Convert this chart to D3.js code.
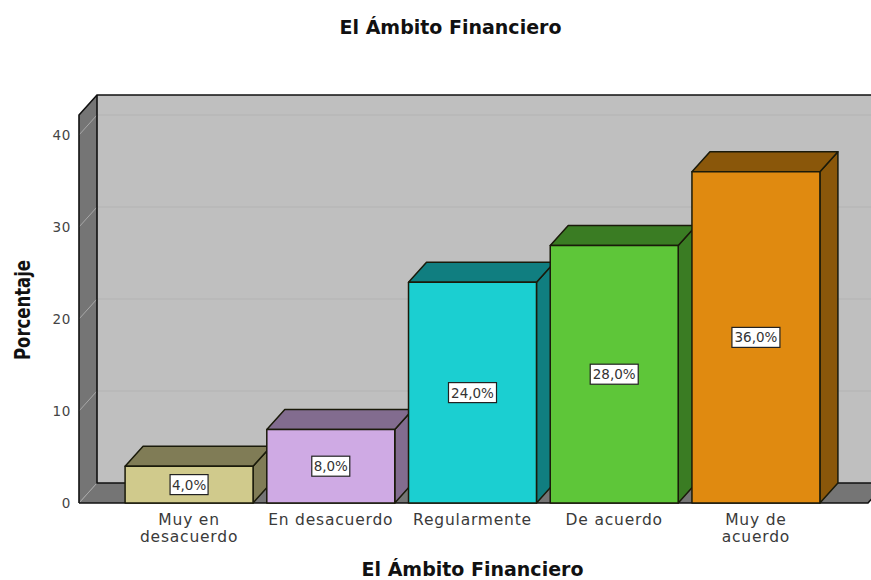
<!DOCTYPE html>
<html><head><meta charset="utf-8">
<script src="https://cdn.jsdelivr.net/npm/d3@7"></script>
<style>html,body{margin:0;padding:0;background:#fff;overflow:hidden}svg{display:block}text{font-family:"DejaVu Sans",sans-serif}</style>
</head><body><svg id="c" width="871" height="580"></svg>
<script>
const categories = [["Muy en","desacuerdo"],["En desacuerdo"],["Regularmente"],["De acuerdo"],["Muy de","acuerdo"]];
const values = [4, 8, 24, 28, 36];
const valueLabels = ["4,0%","8,0%","24,0%","28,0%","36,0%"];
const frontColors = ["#d0ca8c","#cfaae4","#1bcfd1","#5ec639","#e08a10"];
const sideColors = ["#807c56","#826c8f","#107e80","#3a7c23","#8a570a"];
const yTicks = [0,10,20,30,40];
const title = "El Ámbito Financiero";
const xTitle = "El Ámbito Financiero";
const yTitle = "Porcentaje";

const svg = d3.select("#c");
const dx = 18, dy = -20, barDx = 18, barDy = -20;
const y = d3.scaleLinear().domain([0,40]).range([503,135]);
const yMax = y.invert(115);
const x = d3.scaleBand().domain(d3.range(categories.length)).range([118,827]).paddingInner(0.097).paddingOuter(0.05);
const left = 79, right = 868;
const poly = p => p.map(q => q.join(",")).join(" ");

// back wall, left wall, floor
svg.append("polygon").attr("points",poly([[left+dx,y(0)+dy],[right+dx,y(0)+dy],[right+dx,y(yMax)+dy],[left+dx,y(yMax)+dy]])).attr("fill","#bfbfbf");
svg.append("polygon").attr("points",poly([[left,y(0)],[left+dx,y(0)+dy],[left+dx,y(yMax)+dy],[left,y(yMax)]])).attr("fill","#757575");
svg.append("polygon").attr("points",poly([[left,y(0)],[left+dx,y(0)+dy],[right+dx,y(0)+dy],[right,y(0)]])).attr("fill","#757575");
// gridlines
yTicks.slice(1).forEach(t=>{
  svg.append("line").attr("x1",left+dx).attr("x2",right+dx).attr("y1",y(t)+dy).attr("y2",y(t)+dy).attr("stroke","#b3b3b3").attr("stroke-width",1.2);
  svg.append("line").attr("x1",left).attr("x2",left+dx).attr("y1",y(t)).attr("y2",y(t)+dy).attr("stroke","#a8a8a8").attr("stroke-width",1);
});
svg.append("line").attr("x1",left).attr("x2",left+dx).attr("y1",y(0)).attr("y2",y(0)+dy).attr("stroke","#a8a8a8").attr("stroke-width",1);
// frame
const frame = (pts)=>svg.append("polyline").attr("points",poly(pts)).attr("fill","none").attr("stroke","#111").attr("stroke-width",1.6);
frame([[left,y(0)],[left,y(yMax)],[left+dx,y(yMax)+dy],[right+dx,y(yMax)+dy]]);
frame([[left+dx,y(yMax)+dy],[left+dx,y(0)+dy],[right+dx,y(0)+dy]]);
frame([[left,y(0)],[right,y(0)],[right+dx,y(0)+dy]]);

// bars
const g = svg.append("g").attr("stroke","#1a1a0a").attr("stroke-width",1.5).attr("stroke-linejoin","round");
values.forEach((v,i)=>{
  const x0=x(i), x1=x0+x.bandwidth(), yt=y(v), yb=y(0);
  g.append("polygon").attr("points",poly([[x1,yb],[x1+barDx,yb+barDy],[x1+barDx,yt+barDy],[x1,yt]])).attr("fill",sideColors[i]);
  g.append("polygon").attr("points",poly([[x0,yt],[x0+barDx,yt+barDy],[x1+barDx,yt+barDy],[x1,yt]])).attr("fill",sideColors[i]);
  g.append("rect").attr("x",x0).attr("y",yt).attr("width",x.bandwidth()).attr("height",yb-yt).attr("fill",frontColors[i]);
});
// value labels
values.forEach((v,i)=>{
  const cx=x(i)+x.bandwidth()/2, cy=(y(v)+y(0))/2;
  const w = valueLabels[i].length>4 ? 48 : 38;
  svg.append("rect").attr("x",cx-w/2).attr("y",cy-10).attr("width",w).attr("height",20).attr("fill","#fff").attr("stroke","#222").attr("stroke-width",1.2);
  svg.append("text").attr("x",cx).attr("y",cy+5).attr("text-anchor","middle").attr("font-size",13.5).attr("fill","#333").text(valueLabels[i]);
});
// y axis labels
yTicks.forEach(t=>{
  svg.append("text").attr("x",71).attr("y",y(t)+5).attr("text-anchor","end").attr("font-size",13.5).attr("letter-spacing",0.6).attr("fill","#444").text(t);
});
// category labels
categories.forEach((c,i)=>{
  const cx=x(i)+x.bandwidth()/2;
  c.forEach((s,j)=>svg.append("text").attr("x",cx).attr("y",525+j*17).attr("text-anchor","middle").attr("font-size",15.5).attr("letter-spacing",0.8).attr("fill","#3a3a3a").text(s));
});
// titles
svg.append("text").attr("x",450.5).attr("y",33.5).attr("text-anchor","middle").attr("font-size",19).attr("font-weight","bold").attr("fill","#111").text(title);
svg.append("text").attr("x",472.5).attr("y",575.5).attr("text-anchor","middle").attr("font-size",19).attr("font-weight","bold").attr("fill","#111").text(xTitle);
svg.append("text").attr("transform","translate(30,360) rotate(-90)").style("font-family","'DejaVu Sans Condensed','DejaVu Sans'").style("font-stretch","condensed").attr("font-size",21).attr("font-weight","bold").attr("fill","#111").attr("textLength",100).attr("lengthAdjust","spacingAndGlyphs").text(yTitle);
</script></body></html>
